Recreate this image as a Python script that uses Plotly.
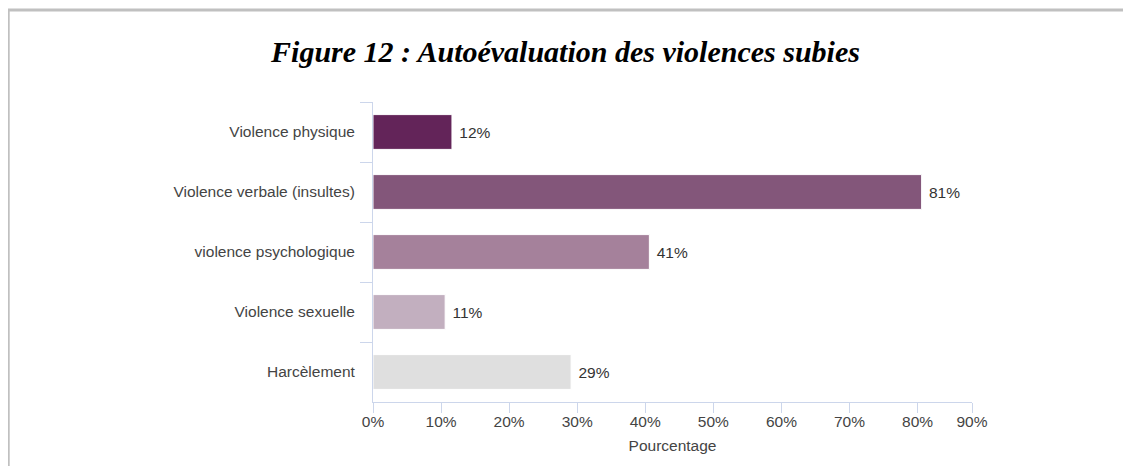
import plotly.graph_objects as go

categories = ["Violence physique", "Violence verbale (insultes)", "violence psychologique",
              "Violence sexuelle", "Harcèlement"]
values = [0.116, 0.806, 0.406, 0.106, 0.291]
colors = ["#632459", "#83567a", "#a5819b", "#c2afbf", "#dfdfdf"]
tick_vals = [0, 0.1, 0.2, 0.3, 0.4, 0.5, 0.6, 0.7, 0.8, 0.88]
tick_text = ["0%", "10%", "20%", "30%", "40%", "50%", "60%", "70%", "80%", "90%"]
title = "Figure 12 : Autoévaluation des violences subies"
x_title = "Pourcentage"

FS = 15.5
fig = go.Figure(go.Bar(
    y=categories, x=values, orientation="h",
    marker=dict(color=colors, line=dict(color="white", width=1)),
    text=values, texttemplate=" %{x:.0%}", textposition="outside",
    textfont=dict(family="Liberation Sans, Arial", size=FS, color="#333333"),
    cliponaxis=False, showlegend=False,
))

axis_col = "#ccd6eb"
fig.update_layout(
    width=1115, height=458,
    margin=dict(l=365, r=151, t=94, b=64),
    paper_bgcolor="white", plot_bgcolor="white",
    bargap=0.42,
    font=dict(family="Liberation Sans, Arial", size=FS, color="#444444"),
    title=dict(text=f"<b><i>{title}</i></b>", x=0.5, xanchor="center", y=0.905, yanchor="middle",
               font=dict(family="Liberation Serif, Times New Roman", size=30, color="black")),
    xaxis=dict(range=[0, 0.88], tickvals=tick_vals, ticktext=tick_text, showgrid=False,
               zeroline=False, showline=True, linecolor=axis_col, linewidth=1,
               ticks="outside", ticklen=10, tickcolor=axis_col, ticklabelstandoff=-5,
               tickfont=dict(size=FS, color="#444444"),
               title=dict(text=x_title, font=dict(size=FS, color="#444444"), standoff=11)),
    yaxis=dict(autorange="reversed", showgrid=False, zeroline=False, showline=True,
               linecolor=axis_col, linewidth=1, ticks="outside", ticklen=12, tickcolor=axis_col,
               tickson="boundaries", ticklabelstandoff=14,
               tickfont=dict(size=FS, color="#444444")),
    shapes=[
        dict(type="line", xref="paper", yref="paper", x0=-0.612, x1=1.3, y0=1.307, y1=1.307,
             line=dict(color="#c0c0c0", width=3)),
        dict(type="line", xref="paper", yref="paper", x0=-0.609, x1=-0.609, y0=1.307, y1=-0.25,
             line=dict(color="#c0c0c0", width=3)),
    ],
)

fig.write_html("out.html")
